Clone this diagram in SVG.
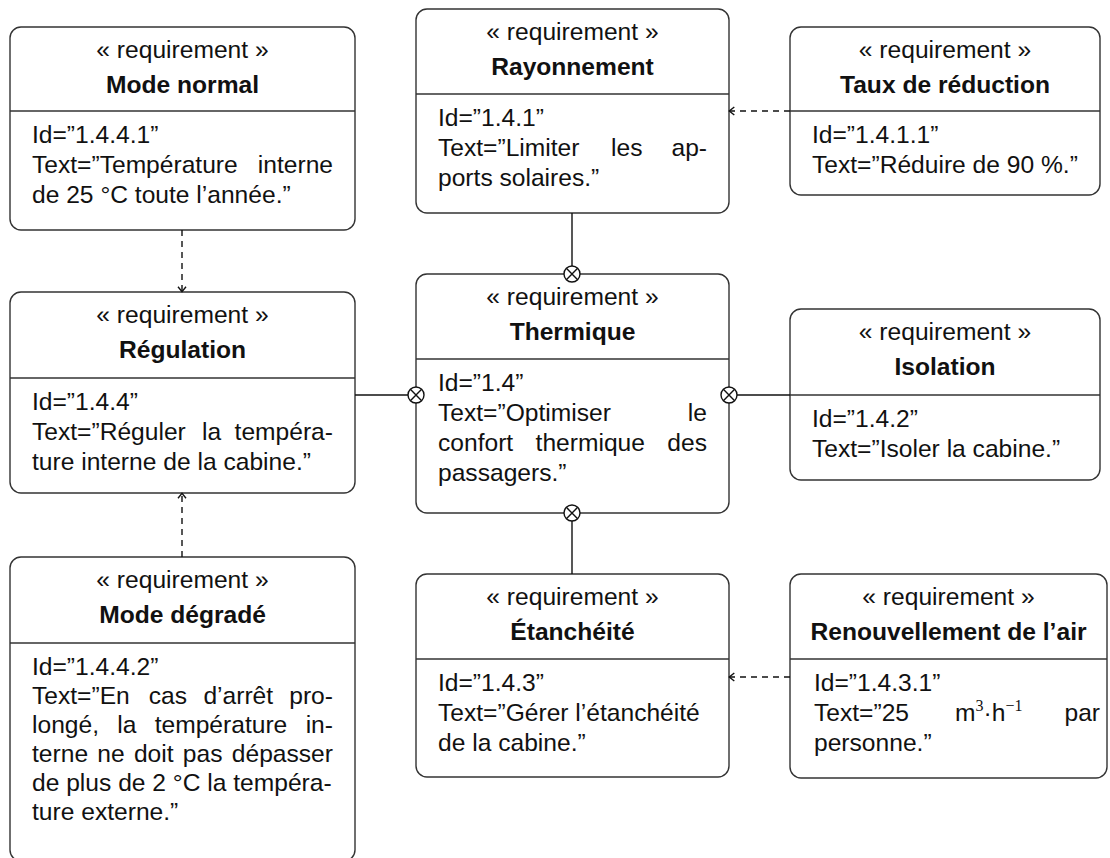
<svg xmlns="http://www.w3.org/2000/svg" xmlns:xlink="http://www.w3.org/1999/xlink" width="1110" height="858" viewBox="0 0 1110 858">
<style>
.box{fill:#fff;stroke:#333;stroke-width:1.4}
.div{stroke:#333;stroke-width:1.4}
.t{font-family:"Liberation Sans",Arial,sans-serif;font-size:24.6px;fill:#111}
.b{font-weight:bold}
.c{text-anchor:middle}
.e{text-anchor:end}
.sup{font-family:"Liberation Serif","Times New Roman",serif;font-size:16px}
.ln{stroke:#111;stroke-width:1.4;fill:none}
.dash{stroke:#111;stroke-width:1.4;fill:none;stroke-dasharray:6 5}
</style>
<defs>
<marker id="arr" markerUnits="userSpaceOnUse" markerWidth="10" markerHeight="10" viewBox="0 0 10 10" refX="9.3" refY="5" orient="auto">
<path d="M4,1 L9,5 L4,9" fill="none" stroke="#111" stroke-width="1.4"/>
</marker>
<g id="xc">
<circle cx="0" cy="0" r="8" fill="#fff" stroke="#111" stroke-width="1.4"/>
<path d="M-5.66,-5.66 L5.66,5.66 M-5.66,5.66 L5.66,-5.66" stroke="#111" stroke-width="1.4"/>
</g>
</defs>
<rect width="1110" height="858" fill="#fff"/>

<g id="mode-normal">
<rect class="box" x="10" y="27" width="345" height="203" rx="11"/>
<line class="div" x1="10" y1="111" x2="355" y2="111"/>
<text class="t c" x="182.5" y="58">« requirement »</text>
<text class="t c b" x="182.5" y="93">Mode normal</text>
<text class="t" x="32" y="143">Id=”1.4.4.1”</text>
<text class="t" x="32" y="173">Text=”Température</text>
<text class="t e" x="333" y="173">interne</text>
<text class="t" x="32" y="203">de 25 °C toute l’année.”</text>
</g>

<g id="regulation">
<rect class="box" x="10" y="292" width="345" height="201" rx="11"/>
<line class="div" x1="10" y1="378" x2="355" y2="378"/>
<text class="t c" x="182.5" y="323">« requirement »</text>
<text class="t c b" x="182.5" y="358">Régulation</text>
<text class="t" x="32" y="410">Id=”1.4.4”</text>
<text class="t" x="32" y="440">Text=”Réguler</text>
<text class="t" x="202" y="440">la</text>
<text class="t e" x="333" y="440">tempéra-</text>
<text class="t" x="32" y="470">ture interne de la cabine.”</text>
</g>

<g id="mode-degrade">
<rect class="box" x="10" y="557" width="345" height="304" rx="11"/>
<line class="div" x1="10" y1="643" x2="355" y2="643"/>
<text class="t c" x="182.5" y="588">« requirement »</text>
<text class="t c b" x="182.5" y="623">Mode dégradé</text>
<text class="t" x="32" y="675">Id=”1.4.4.2”</text>
<text class="t" x="32" y="704">Text=”En</text>
<text class="t" x="148.8" y="704">cas</text>
<text class="t" x="203.4" y="704">d’arrêt</text>
<text class="t e" x="333" y="704">pro-</text>
<text class="t" x="32" y="733">longé,</text>
<text class="t" x="117.3" y="733">la</text>
<text class="t" x="154.7" y="733">température</text>
<text class="t e" x="333" y="733">in-</text>
<text class="t" x="32" y="762">terne</text>
<text class="t" x="97.3" y="762">ne</text>
<text class="t" x="133.9" y="762">doit</text>
<text class="t" x="182.8" y="762">pas</text>
<text class="t e" x="333" y="762">dépasser</text>
<text class="t" x="32" y="791">de plus de 2 °C la tempéra-</text>
<text class="t" x="32" y="820">ture externe.”</text>
</g>

<g id="rayonnement">
<rect class="box" x="416" y="9" width="313" height="204" rx="11"/>
<line class="div" x1="416" y1="94" x2="729" y2="94"/>
<text class="t c" x="572.5" y="40">« requirement »</text>
<text class="t c b" x="572.5" y="75">Rayonnement</text>
<text class="t" x="438" y="126">Id=”1.4.1”</text>
<text class="t" x="438" y="156">Text=”Limiter</text>
<text class="t" x="611" y="156">les</text>
<text class="t e" x="707" y="156">ap-</text>
<text class="t" x="438" y="186">ports solaires.”</text>
</g>

<g id="thermique">
<rect class="box" x="416" y="274" width="313" height="239" rx="11"/>
<line class="div" x1="416" y1="359" x2="729" y2="359"/>
<text class="t c" x="572.5" y="305">« requirement »</text>
<text class="t c b" x="572.5" y="340">Thermique</text>
<text class="t" x="438" y="391">Id=”1.4”</text>
<text class="t" x="438" y="421">Text=”Optimiser</text>
<text class="t e" x="707" y="421">le</text>
<text class="t" x="438" y="451">confort</text>
<text class="t" x="535.6" y="451">thermique</text>
<text class="t e" x="707" y="451">des</text>
<text class="t" x="438" y="481">passagers.”</text>
</g>

<g id="etancheite">
<rect class="box" x="416" y="574" width="313" height="203" rx="11"/>
<line class="div" x1="416" y1="659" x2="729" y2="659"/>
<text class="t c" x="572.5" y="605">« requirement »</text>
<text class="t c b" x="572.5" y="640">Étanchéité</text>
<text class="t" x="438" y="691">Id=”1.4.3”</text>
<text class="t" x="438" y="721">Text=”Gérer l’étanchéité</text>
<text class="t" x="438" y="751">de la cabine.”</text>
</g>

<g id="taux-reduction">
<rect class="box" x="790" y="27" width="310" height="168" rx="11"/>
<line class="div" x1="790" y1="111" x2="1100" y2="111"/>
<text class="t c" x="945" y="58">« requirement »</text>
<text class="t c b" x="945" y="93">Taux de réduction</text>
<text class="t" x="812" y="143">Id=”1.4.1.1”</text>
<text class="t" x="812" y="173">Text=”Réduire de 90 %.”</text>
</g>

<g id="isolation">
<rect class="box" x="790" y="309" width="310" height="171" rx="11"/>
<line class="div" x1="790" y1="395" x2="1100" y2="395"/>
<text class="t c" x="945" y="340">« requirement »</text>
<text class="t c b" x="945" y="375">Isolation</text>
<text class="t" x="812" y="427">Id=”1.4.2”</text>
<text class="t" x="812" y="457">Text=”Isoler la cabine.”</text>
</g>

<g id="renouvellement">
<rect class="box" x="790" y="574" width="317" height="204" rx="11"/>
<line class="div" x1="790" y1="659" x2="1107" y2="659"/>
<text class="t c" x="948.5" y="605">« requirement »</text>
<text class="t c b" x="948.5" y="640">Renouvellement de l’air</text>
<text class="t" x="814" y="691">Id=”1.4.3.1”</text>
<text class="t" x="814" y="721">Text=”25</text>
<text class="t" x="955" y="721">m<tspan class="sup" dy="-10">3</tspan><tspan dy="10">·h</tspan><tspan class="sup" dy="-10">−1</tspan></text>
<text class="t e" x="1100" y="721">par</text>
<text class="t" x="814" y="751">personne.”</text>
</g>

<g id="connectors">
<line class="dash" x1="182" y1="230" x2="182" y2="292" marker-end="url(#arr)"/>
<line class="dash" x1="182" y1="557" x2="182" y2="493" marker-end="url(#arr)"/>
<line class="dash" x1="790" y1="111" x2="729" y2="111" marker-end="url(#arr)"/>
<line class="dash" x1="790" y1="677" x2="729" y2="677" marker-end="url(#arr)"/>
<line class="ln" x1="572" y1="213" x2="572" y2="266"/>
<line class="ln" x1="355" y1="395" x2="408" y2="395"/>
<line class="ln" x1="737" y1="395" x2="790" y2="395"/>
<line class="ln" x1="572" y1="521" x2="572" y2="574"/>
<use xlink:href="#xc" href="#xc" x="572" y="274"/>
<use xlink:href="#xc" href="#xc" x="416" y="395"/>
<use xlink:href="#xc" href="#xc" x="729" y="395"/>
<use xlink:href="#xc" href="#xc" x="572" y="513"/>
</g>
</svg>
